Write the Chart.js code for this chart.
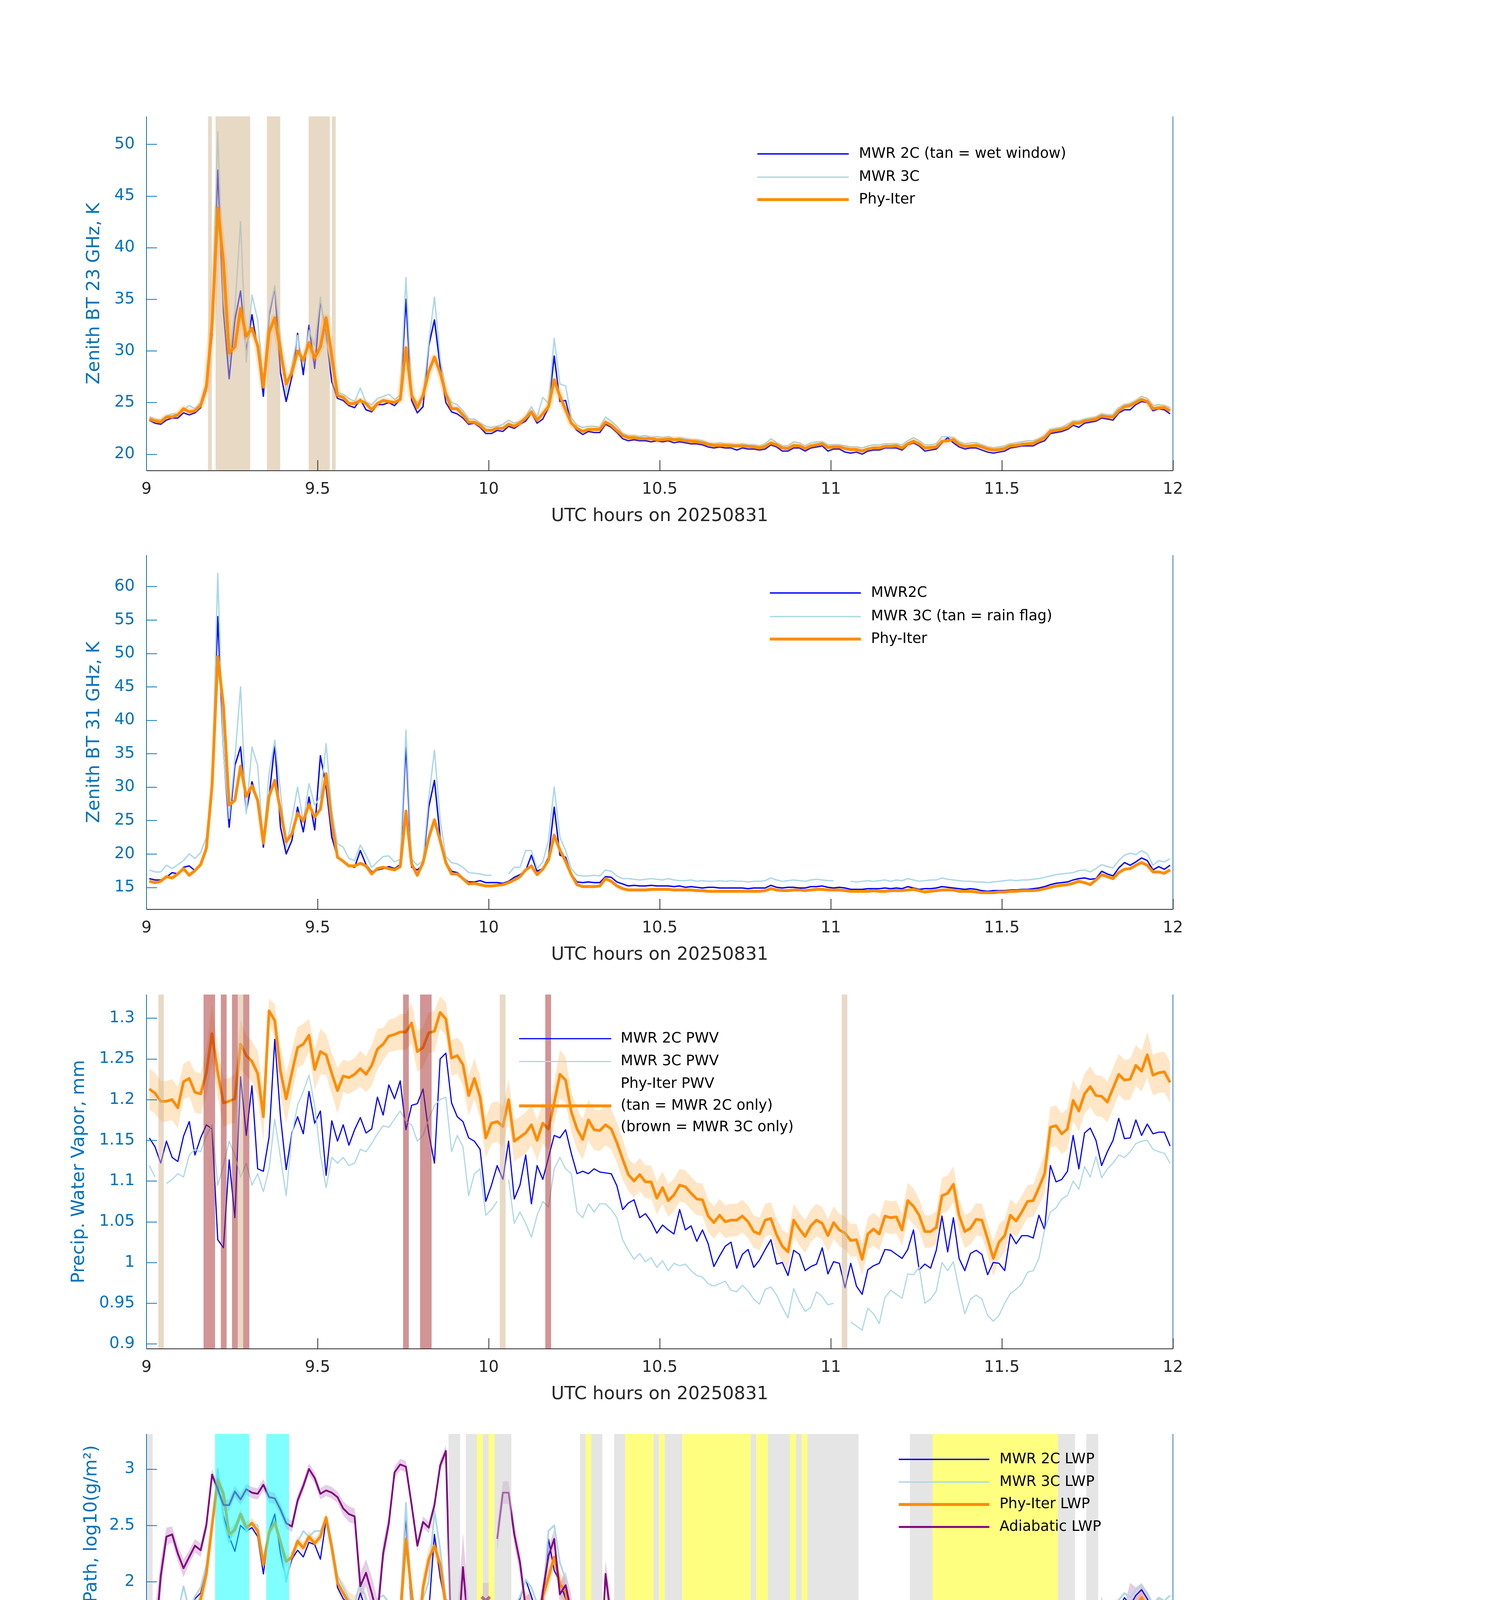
<!DOCTYPE html>
<html><head><meta charset="utf-8">
<script src="https://cdn.jsdelivr.net/npm/chart.js@4.4.1/dist/chart.umd.min.js"></script>
<style>
html,body{margin:0;padding:0;background:#fff;}
body{width:3825px;height:6000px;position:relative;overflow:hidden;}
canvas{position:absolute;left:0;width:3825px;height:1197px;}
</style></head><body>
<canvas id="c1" width="3825" height="1197" style="top:198px"></canvas>
<canvas id="c2" width="3825" height="1197" style="top:1321px"></canvas>
<canvas id="c3" width="3825" height="1197" style="top:2446px"></canvas>
<canvas id="c4" width="3825" height="1197" style="top:3571px"></canvas>
<canvas id="c5" width="3825" height="1197" style="top:4695px"></canvas>
<script>
const N = null;
// time grid: one value per minute centre, 09:00:30 ... 11:59:30 UTC
const T = Array.from({length: 180}, (v, i) => 9 + (i + 0.5) / 60);
const xTicks = [9, 9.5, 10, 10.5, 11, 11.5, 12];
const xTickLabels = ['9', '9.5', '10', '10.5', '11', '11.5', '12'];

// ---------- Panel 1: 23 GHz ----------
const p1YTicks = [20, 25, 30, 35, 40, 45, 50];
const p1YTickLabels = ['20', '25', '30', '35', '40', '45', '50'];
const p1Mwr2c = [
23.3,23.0,22.9,23.3,23.5,23.5,24.0,23.8,24.0,24.5,
26.2,31.5,47.5,33.8,27.3,33.0,35.8,30.0,33.5,30.2,
25.6,33.4,36.2,27.9,25.1,27.5,31.7,27.7,32.5,28.3,
34.9,31.5,27.0,25.4,25.2,24.7,24.5,25.3,24.3,24.1,
24.8,24.8,25.0,24.7,25.3,35.0,25.2,24.0,24.6,30.5,
33.0,28.5,25.0,24.1,23.9,23.5,22.9,23.0,22.6,22.0,
22.0,22.3,22.2,22.7,22.5,22.9,23.2,24.0,23.0,23.4,
24.5,29.5,25.1,25.2,23.0,22.3,21.9,22.2,22.1,22.1,
22.9,22.6,22.1,21.5,21.3,21.4,21.3,21.3,21.2,21.3,
21.2,21.3,21.1,21.2,21.1,21.0,21.0,20.9,20.7,20.6,
20.7,20.6,20.6,20.4,20.6,20.5,20.5,20.4,20.5,20.9,
20.7,20.3,20.3,20.6,20.6,20.3,20.6,20.7,20.8,20.3,
20.5,20.5,20.2,20.1,20.2,20.0,20.3,20.4,20.4,20.6,
20.6,20.6,20.4,20.9,21.1,20.8,20.3,20.4,20.5,21.1,
21.6,21.1,20.7,20.5,20.6,20.6,20.4,20.2,20.1,20.2,
20.3,20.6,20.7,20.8,20.8,20.8,21.1,21.3,22.0,22.1,
22.2,22.4,22.8,22.6,23.0,23.1,23.2,23.5,23.4,23.3,
24.0,24.3,24.3,24.8,25.1,25.0,24.2,24.4,24.3,23.9];
const p1Mwr3c = [
23.6,23.4,23.3,23.7,23.9,23.9,24.3,24.7,24.4,25.0,
27.0,33.0,51.2,35.0,29.0,34.0,42.5,28.9,35.4,33.0,
27.0,33.8,36.3,31.0,26.0,28.5,31.5,28.5,32.0,30.5,
35.2,31.0,28.5,26.0,25.8,25.4,25.1,26.4,25.0,24.8,
25.4,25.6,25.8,25.3,25.7,37.1,25.8,25.0,25.6,30.8,
35.2,29.3,26.0,25.0,24.8,24.2,23.4,23.4,23.0,22.7,
22.6,22.7,22.9,23.3,23.0,23.2,23.6,24.6,23.6,25.5,
24.9,31.2,26.8,26.6,23.5,22.8,22.6,22.7,22.7,22.6,
23.6,23.2,22.7,22.0,21.8,21.8,21.7,21.8,21.6,21.7,
21.6,21.7,21.5,21.6,21.5,21.4,21.4,21.3,21.1,21.0,
21.1,21.0,21.0,20.9,21.0,20.9,20.9,20.8,21.0,21.5,
21.1,20.8,20.8,21.2,21.1,20.8,21.1,21.2,21.2,20.9,
20.9,20.9,20.8,20.7,20.7,20.6,20.8,20.9,20.9,21.0,
21.0,21.0,20.9,21.3,21.6,21.3,20.9,20.9,21.0,21.7,
21.7,21.6,21.2,21.0,21.1,21.1,20.9,20.7,20.6,20.7,
20.8,21.0,21.1,21.2,21.3,21.3,21.5,21.8,22.4,22.5,
22.6,22.9,23.2,23.2,23.4,23.5,23.6,23.9,23.8,23.8,
24.5,24.8,24.9,25.2,25.6,25.4,24.7,24.8,24.7,24.5];
const p1Phy = [
23.4,23.2,23.1,23.6,23.6,23.8,24.4,24.1,24.2,24.7,
26.5,32.5,43.8,38.6,29.8,30.4,34.1,31.4,32.2,30.5,
26.5,31.8,33.2,30.0,26.8,27.9,30.0,29.1,30.8,29.3,
30.4,33.2,29.5,25.7,25.5,24.9,24.9,25.2,24.9,24.3,
24.9,25.2,25.1,25.0,25.3,30.3,25.7,24.5,25.7,28.0,
29.4,27.9,25.8,24.4,24.4,23.8,23.1,23.1,22.8,22.3,
22.3,22.5,22.5,22.9,22.7,23.0,23.5,24.1,23.3,23.9,
24.6,27.2,25.6,24.3,23.0,22.5,22.2,22.4,22.4,22.4,
23.1,22.8,22.3,21.8,21.6,21.6,21.5,21.5,21.5,21.4,
21.4,21.45,21.4,21.4,21.3,21.25,21.2,21.1,20.95,20.85,
20.85,20.85,20.8,20.8,20.8,20.75,20.7,20.6,20.75,21.1,
20.9,20.6,20.55,20.85,20.8,20.55,20.8,20.9,21.0,20.65,
20.7,20.7,20.55,20.45,20.45,20.3,20.5,20.6,20.6,20.75,
20.75,20.8,20.6,21.0,21.25,21.0,20.6,20.65,20.7,21.25,
21.3,21.4,20.95,20.75,20.8,20.85,20.7,20.5,20.4,20.45,
20.55,20.8,20.85,20.95,21.0,21.05,21.3,21.6,22.2,22.3,
22.4,22.6,23.0,23.0,23.2,23.3,23.4,23.7,23.6,23.6,
24.2,24.6,24.7,25.0,25.3,25.1,24.4,24.5,24.5,24.2];
const p1WetSpans = [[9.180,9.191],[9.202,9.303],[9.352,9.391],[9.474,9.536],[9.542,9.553]];

// ---------- Panel 2: 31 GHz ----------
const p2YTicks = [15, 20, 25, 30, 35, 40, 45, 50, 55, 60];
const p2YTickLabels = ['15','20','25','30','35','40','45','50','55','60'];
const p2Mwr2c = [
16.3,16.1,16.1,16.5,17.2,17.0,18.0,18.2,17.5,18.5,
21.0,30.5,55.5,35.3,24.0,33.2,36.0,26.4,30.8,28.0,
21.0,28.5,36.4,24.0,20.0,22.0,27.0,23.3,28.5,23.6,
34.7,30.0,22.5,19.5,19.0,18.2,18.0,20.5,18.4,17.3,
17.6,17.8,18.1,17.8,18.4,36.4,18.0,17.6,18.4,27.0,
31.0,22.5,18.8,17.4,17.2,16.4,15.8,15.8,16.0,15.7,
15.7,15.7,15.6,15.9,16.5,16.9,17.5,19.8,17.4,17.8,
19.5,27.0,19.8,19.5,17.0,15.8,15.7,15.8,15.7,15.7,
16.6,16.5,15.8,15.5,15.2,15.3,15.2,15.2,15.3,15.2,
15.2,15.2,15.1,15.2,15.0,15.1,15.0,14.9,15.0,15.0,
14.9,14.9,14.9,14.9,14.9,14.8,14.9,14.9,14.9,15.3,
15.0,14.9,15.0,15.0,14.9,14.9,15.1,15.1,15.2,15.0,
14.9,15.0,14.9,14.7,14.7,14.7,14.8,14.8,14.8,14.9,
14.8,14.9,14.8,15.1,14.9,14.7,14.8,14.8,14.9,15.1,
15.0,14.9,14.8,14.7,14.8,14.7,14.5,14.4,14.5,14.5,
14.5,14.6,14.6,14.7,14.7,14.8,14.9,15.1,15.4,15.6,
15.7,15.8,16.1,16.3,16.4,16.2,16.3,17.4,17.0,16.7,
17.9,18.7,18.3,18.8,19.4,19.0,17.6,18.1,17.7,18.3];
const p2Mwr3c = [
17.6,17.3,17.3,18.3,17.8,18.4,19.0,20.0,19.3,20.2,
22.5,30.0,62.0,35.0,25.3,34.2,45.0,26.0,36.0,33.2,
21.5,32.0,37.0,29.3,21.0,25.2,30.0,24.8,30.5,27.3,
28.5,36.5,26.5,21.5,21.0,19.3,19.0,21.3,19.8,18.0,
18.8,19.6,19.7,18.8,19.2,38.5,19.2,18.3,19.0,28.3,
35.5,25.0,19.6,18.7,18.5,18.0,17.2,17.1,17.0,16.8,
16.8,N,N,17.0,18.0,18.0,20.5,20.5,17.8,18.8,
22.0,30.0,22.5,20.5,17.8,16.8,16.7,16.7,16.8,16.7,
17.6,17.4,16.7,16.3,16.3,16.2,16.1,16.2,16.3,16.2,
16.1,16.3,16.1,16.0,16.0,16.1,15.9,16.0,15.9,15.9,
16.0,15.9,16.0,15.9,15.9,15.8,15.9,15.9,16.0,16.4,
16.1,15.9,16.0,16.1,16.0,15.9,16.1,16.2,16.1,16.0,
16.0,N,N,15.9,15.8,15.9,16.0,15.9,16.0,16.1,
15.9,16.1,16.0,16.3,16.1,15.9,16.0,16.1,16.1,16.4,
16.2,16.1,16.0,15.9,15.9,15.8,15.8,15.7,15.8,15.9,
16.0,16.1,16.0,16.1,16.1,16.2,16.3,16.5,16.7,16.9,
17.0,17.1,17.2,17.5,17.6,17.3,17.8,18.4,18.1,17.9,
19.0,19.8,20.1,19.9,20.5,20.0,18.3,19.0,18.8,19.3];
const p2Phy = [
15.9,15.7,15.9,16.6,16.4,17.0,17.8,16.8,17.5,18.4,
20.8,30.2,49.5,42.1,27.3,28.0,33.1,28.6,30.2,28.0,
21.6,28.6,31.0,26.5,21.8,23.0,26.1,24.9,27.4,25.5,
26.7,32.0,24.7,19.5,18.9,18.2,18.2,18.6,18.2,17.0,
17.8,18.0,17.8,17.6,18.1,26.4,18.5,16.8,18.7,22.4,
25.1,22.0,18.7,17.0,17.0,16.3,15.5,15.6,15.4,15.2,
15.2,15.3,15.4,15.7,16.1,16.6,17.6,18.2,16.9,17.7,
19.1,22.8,20.6,18.9,16.9,15.4,15.1,15.1,15.1,15.2,
16.3,15.9,15.2,14.8,14.6,14.6,14.6,14.6,14.7,14.7,
14.7,14.7,14.6,14.6,14.6,14.6,14.5,14.5,14.4,14.4,
14.4,14.4,14.4,14.4,14.4,14.4,14.4,14.4,14.5,14.8,
14.6,14.5,14.5,14.6,14.6,14.5,14.6,14.7,14.7,14.6,
14.6,14.6,14.5,14.4,14.4,14.4,14.4,14.5,14.4,14.4,
14.5,14.5,14.5,14.6,14.7,14.5,14.3,14.4,14.5,14.6,
14.6,14.6,14.4,14.4,14.4,14.3,14.2,14.2,14.2,14.3,
14.3,14.4,14.4,14.5,14.5,14.5,14.6,14.8,15.0,15.2,
15.3,15.4,15.6,15.9,15.7,15.4,16.1,16.9,16.6,16.3,
17.2,17.7,17.8,18.3,18.7,18.3,17.3,17.3,17.1,17.6];

// ---------- Panel 3: PWV ----------
const p3YTicks = [0.9, 0.95, 1, 1.05, 1.1, 1.15, 1.2, 1.25, 1.3];
const p3YTickLabels = ['0.9','0.95','1','1.05','1.1','1.15','1.2','1.25','1.3'];
const p3Mwr2c = [
1.153,1.142,1.122,1.149,1.129,1.124,1.155,1.173,1.132,1.153,
1.169,1.164,1.028,1.018,1.126,1.055,1.228,1.156,1.217,1.115,
1.112,1.154,1.274,1.179,1.114,1.159,1.179,1.158,1.210,1.171,
1.186,1.107,1.174,1.149,1.169,1.144,1.163,1.178,1.159,1.164,
1.203,1.181,1.218,1.201,1.223,1.163,1.193,1.195,1.213,1.159,
1.122,1.250,1.257,1.196,1.179,1.173,1.153,1.149,1.139,1.075,
1.095,1.119,1.102,1.149,1.078,1.095,1.132,1.072,1.119,1.102,
1.129,1.156,1.153,1.163,1.134,1.109,1.112,1.109,1.115,1.111,
1.110,1.109,1.094,1.065,1.073,1.077,1.055,1.060,1.050,1.036,
1.046,1.040,1.035,1.065,1.040,1.045,1.026,1.040,1.023,0.995,
1.008,1.020,1.025,0.993,1.010,1.016,0.994,1.003,1.016,1.028,
0.998,1.000,0.984,1.015,1.010,0.990,0.995,0.998,1.018,0.986,
1.001,0.999,0.969,0.999,0.971,0.961,0.991,0.996,0.999,1.016,
1.015,1.010,1.005,1.016,1.040,0.991,0.998,0.993,1.015,1.057,
1.013,1.055,1.005,0.990,1.011,1.015,1.010,0.985,1.000,0.999,
0.990,1.035,1.023,1.033,1.033,1.030,1.058,1.040,1.119,1.099,
1.102,1.112,1.156,1.115,1.159,1.165,1.150,1.119,1.136,1.150,
1.177,1.152,1.153,1.175,1.156,1.170,1.158,1.160,1.160,1.143];
const p3Mwr3c = [
1.119,1.105,N,1.097,1.102,1.109,1.105,1.132,1.139,1.136,
1.156,1.169,1.095,1.119,1.149,1.132,1.105,1.122,1.095,1.109,
1.087,1.115,1.176,1.129,1.082,1.156,1.193,1.210,1.230,1.193,
1.132,1.092,1.129,1.122,1.129,1.119,1.122,1.139,1.136,1.146,
1.158,1.168,1.166,1.176,1.186,1.173,1.169,1.149,1.156,1.176,
1.193,1.200,1.203,1.136,1.156,1.142,1.082,1.109,1.115,1.058,
1.065,1.075,N,1.102,1.048,1.062,1.048,1.031,1.058,1.075,
1.068,1.115,1.129,1.115,1.109,1.062,1.055,1.072,1.062,1.072,
1.072,1.065,1.055,1.028,1.015,1.004,1.011,1.001,1.006,0.994,
1.002,0.990,0.999,0.996,0.998,0.990,0.984,0.982,0.974,0.971,
0.974,0.977,0.966,0.964,0.972,0.965,0.955,0.949,0.967,0.970,
0.960,0.945,0.932,0.968,0.952,0.940,0.945,0.964,0.958,0.948,
0.950,N,N,0.927,0.922,0.917,0.944,0.937,0.925,0.957,
0.966,0.961,0.956,0.986,0.985,0.994,0.950,0.955,0.965,1.000,
0.990,1.001,0.967,0.937,0.955,0.960,0.955,0.935,0.928,0.935,
0.950,0.962,0.967,0.974,0.988,0.990,1.005,1.040,1.062,1.067,
1.078,1.082,1.100,1.090,1.118,1.105,1.130,1.104,1.115,1.122,
1.132,1.129,1.136,1.146,1.149,1.150,1.139,1.136,1.134,1.122];
const p3Phy = [
1.213,1.208,1.198,1.198,1.200,1.190,1.222,1.226,1.209,1.207,
1.233,1.281,1.233,1.196,1.198,1.201,1.268,1.254,1.247,1.232,
1.179,1.309,1.297,1.235,1.201,1.233,1.264,1.268,1.279,1.237,
1.259,1.255,1.232,1.211,1.229,1.227,1.231,1.238,1.231,1.242,
1.262,1.268,1.278,1.280,1.283,1.283,1.294,1.259,1.264,1.282,
1.284,1.307,1.299,1.251,1.254,1.243,1.205,1.226,1.203,1.153,
1.171,1.173,1.167,1.200,1.149,1.154,1.159,1.169,1.150,1.171,
1.164,1.196,1.231,1.224,1.185,1.164,1.151,1.175,1.163,1.162,
1.169,1.164,1.147,1.127,1.108,1.100,1.108,1.099,1.099,1.079,
1.092,1.076,1.083,1.095,1.093,1.085,1.078,1.077,1.057,1.049,
1.058,1.050,1.052,1.052,1.057,1.050,1.038,1.035,1.052,1.054,
1.034,1.020,1.013,1.052,1.041,1.032,1.045,1.052,1.048,1.033,
1.049,1.040,1.036,1.027,1.028,1.004,1.035,1.041,1.035,1.057,
1.055,1.056,1.040,1.076,1.069,1.058,1.038,1.038,1.043,1.082,
1.085,1.096,1.058,1.038,1.042,1.053,1.052,1.029,1.005,1.025,
1.033,1.058,1.051,1.062,1.075,1.076,1.092,1.109,1.166,1.168,
1.158,1.164,1.199,1.186,1.207,1.216,1.205,1.204,1.197,1.214,
1.231,1.224,1.225,1.242,1.235,1.255,1.230,1.233,1.234,1.221];
const p3PhyErr = [
.025,.025,.025,.025,.025,.025,.022,.022,.025,.025,
.028,.035,.03,.03,.028,.03,.03,.025,.025,.028,
.03,.015,.02,.03,.03,.028,.025,.025,.02,.025,
.028,.025,.025,.028,.02,.02,.02,.022,.022,.025,
.025,.02,.02,.02,.022,.022,.025,.025,.025,.025,
.025,.02,.02,.022,.022,.025,.025,.025,.025,.025,
.025,.025,.025,.025,.025,.025,.025,.025,.025,.025,
.025,.025,.03,.028,.025,.025,.025,.025,.025,.025,
.025,.025,.025,.025,.02,.02,.02,.02,.02,.02,
.02,.02,.02,.02,.02,.02,.02,.02,.02,.02,
.02,.02,.02,.02,.02,.02,.02,.02,.02,.02,
.02,.02,.022,.02,.02,.02,.02,.02,.02,.02,
.02,.02,.02,.02,.02,.02,.02,.02,.02,.02,
.02,.02,.02,.022,.022,.02,.02,.02,.02,.022,
.022,.022,.02,.02,.02,.02,.02,.02,.022,.022,
.02,.02,.02,.02,.02,.02,.022,.025,.025,.025,
.025,.025,.025,.025,.025,.025,.025,.025,.025,.025,
.025,.025,.025,.025,.025,.028,.025,.025,.025,.025];
const p3TanSpans = [[9.0348,9.0506],[9.2668,9.2827],[10.0326,10.0495],[11.0322,11.0484]];
const p3BrownSpans = [[9.1668,9.2005],[9.2173,9.2342],[9.25,9.2668],[9.2827,9.3006],[9.750,9.7668],[9.7996,9.8333],[10.1656,10.1825]];

// ---------- Panel 4: LWP ----------
const p4YTicks = [0.5, 1, 1.5, 2, 2.5, 3];
const p4YTickLabels = ['0.5','1','1.5','2','2.5','3'];
const p4Mwr2c = [
1.58,1.47,1.50,1.68,1.66,1.82,1.78,1.70,1.85,1.90,
2.10,2.50,2.92,2.59,2.40,2.27,2.50,2.45,2.48,2.40,
2.07,2.45,2.60,2.25,2.02,2.20,2.28,2.22,2.35,2.33,
2.20,2.55,2.30,1.95,1.85,1.80,1.72,1.90,1.75,1.60,
1.72,1.80,1.74,1.70,1.80,2.58,1.70,1.55,1.75,1.73,
2.42,2.04,1.79,1.68,1.62,1.50,1.36,1.50,1.40,1.45,
1.46,1.40,1.47,1.50,1.75,1.85,2.02,1.87,1.72,1.80,
2.38,2.10,2.00,1.85,1.54,1.41,1.39,1.38,1.32,1.45,
1.70,1.62,1.42,1.37,1.26,1.24,1.39,1.30,1.38,1.41,
1.39,1.46,1.36,1.40,1.38,1.40,1.39,1.28,1.37,1.38,
1.40,1.34,1.32,1.33,1.36,1.37,1.31,1.37,1.37,1.54,
1.45,1.35,1.40,1.38,1.38,1.42,1.46,1.47,1.44,1.42,
1.41,1.38,1.43,1.37,1.38,1.43,1.45,1.35,1.34,1.40,
1.33,1.44,1.33,1.43,1.31,1.41,1.35,1.40,1.38,1.41,
1.40,1.33,1.33,1.32,1.30,1.29,1.27,1.28,1.30,1.31,
1.31,1.32,1.31,1.31,1.33,1.34,1.37,1.38,1.39,1.41,
1.44,1.48,1.55,1.57,1.42,1.37,1.60,1.74,1.66,1.56,
1.76,1.86,1.79,1.88,1.93,1.85,1.74,1.81,1.78,1.66];
const p4Mwr3c = [
1.69,1.55,1.60,1.72,1.75,1.72,1.96,1.75,1.87,1.95,
2.15,2.50,3.00,2.55,2.35,2.50,2.58,2.45,2.52,2.50,
2.20,2.45,2.52,2.35,2.00,2.25,2.35,2.45,2.40,2.45,
2.45,2.57,2.35,2.05,1.95,1.85,1.80,2.00,1.85,1.70,
1.85,1.88,1.82,1.78,1.76,2.70,1.78,1.60,1.85,2.00,
2.63,2.29,1.85,1.80,1.70,1.52,1.50,1.48,1.45,1.44,
1.41,1.39,1.43,1.50,1.77,1.87,2.02,1.95,1.81,1.85,
2.45,2.50,2.17,2.02,1.60,1.45,1.41,1.42,1.43,1.56,
1.73,1.70,1.54,1.45,1.35,1.34,1.34,1.33,1.35,1.34,
1.35,1.46,1.36,1.35,1.34,1.33,1.34,1.30,1.33,1.32,
1.32,1.31,1.31,1.30,1.32,1.31,1.32,1.31,1.32,1.46,
1.40,1.34,1.38,1.33,1.34,1.33,1.36,1.37,1.35,1.34,
1.33,1.35,1.33,1.32,1.33,1.31,1.32,1.30,1.31,1.31,
1.30,1.32,1.31,1.30,1.30,1.31,1.30,1.32,1.29,1.30,
1.28,1.27,1.29,1.28,1.26,1.27,1.26,1.27,1.28,1.29,
1.28,1.29,1.30,1.30,1.31,1.31,1.33,1.35,1.37,1.40,
1.43,1.46,1.50,1.48,1.40,1.35,1.62,1.68,1.60,1.80,
1.84,1.90,1.86,1.93,1.97,1.90,1.80,1.86,1.83,1.88];
const p4Phy = [
1.10,0.97,1.20,1.52,1.47,1.62,1.73,1.52,1.70,1.85,
2.07,2.50,2.90,2.78,2.42,2.46,2.60,2.48,2.52,2.45,
2.15,2.44,2.53,2.35,2.18,2.22,2.36,2.30,2.40,2.34,
2.40,2.57,2.30,1.99,1.90,1.81,1.78,1.83,1.78,1.54,
1.68,1.72,1.68,1.62,1.68,2.38,1.90,1.45,1.95,2.20,
2.32,2.15,1.78,1.56,1.55,1.25,0.89,N,N,N,
N,0.79,0.88,0.83,1.38,1.60,1.80,1.75,1.64,1.87,
2.04,2.22,1.98,1.91,1.60,1.08,0.66,N,0.63,0.80,
1.43,1.38,1.03,0.49,N,N,N,N,N,N,
N,0.94,0.69,0.32,N,N,N,N,N,N,
N,N,N,N,N,N,N,N,N,0.96,
0.99,0.78,0.78,N,N,N,N,N,N,N,
N,N,N,N,N,N,N,N,N,N,
N,N,N,N,N,N,N,N,N,N,
N,N,N,N,N,N,N,N,N,N,
N,N,N,N,N,N,N,N,N,N,
0.86,1.01,1.02,1.18,1.17,0.60,1.10,1.55,1.50,1.40,
1.55,1.68,1.72,1.77,1.86,1.76,1.65,1.63,1.67,1.61];
const p4PhyErr = [
.45,.5,.35,.2,.2,.15,.12,.12,.12,.12,
.1,.08,.06,.06,.06,.05,.05,.05,.05,.05,
.05,.05,.05,.05,.05,.05,.05,.05,.05,.05,
.05,.05,.06,.08,.1,.1,.1,.12,.12,.15,
.1,.1,.1,.1,.1,.1,.1,.15,.12,.1,
.1,.1,.12,.15,.2,.35,.5,N,N,N,
N,.4,.4,.4,.25,.15,.12,.12,.12,.1,
.1,.1,.1,.12,.2,.4,.5,N,.5,.4,
.15,.2,.4,.5,N,N,N,N,N,N,
N,.5,.5,.5,N,N,N,N,N,N,
N,N,N,N,N,N,N,N,N,.4,
.4,.4,.4,N,N,N,N,N,N,N,
N,N,N,N,N,N,N,N,N,N,
N,N,N,N,N,N,N,N,N,N,
N,N,N,N,N,N,N,N,N,N,
N,N,N,N,N,N,N,N,N,N,
.4,.35,.35,.3,.3,.5,.35,.2,.2,.25,
.2,.15,.12,.1,.1,.1,.12,.12,.12,.15];
const p4Adi = [
1.20,1.45,2.05,2.40,2.42,2.25,2.12,2.22,2.32,2.28,
2.50,2.95,2.82,2.68,2.68,2.80,2.73,2.82,2.79,2.78,
2.86,2.75,2.74,2.64,2.52,2.49,2.72,2.85,3.00,2.92,
2.78,2.81,2.79,2.75,2.65,2.60,2.58,1.96,2.08,1.90,
1.70,2.25,2.52,2.97,3.04,3.02,2.68,2.32,2.53,2.48,
2.68,3.03,3.16,1.37,1.37,2.13,1.56,N,N,N,
N,2.38,2.79,2.79,2.42,2.17,1.77,1.76,1.50,1.91,
2.23,2.38,1.89,1.97,1.73,1.08,1.01,N,1.05,1.05,
2.07,1.66,1.05,1.05,N,N,N,N,N,N,
N,1.01,1.01,1.01,N,N,N,N,N,N,
N,N,N,N,N,N,N,N,N,1.01,
1.01,1.01,1.01,N,N,N,N,N,N,N,
N,N,N,N,N,N,N,N,N,N,
N,N,N,N,N,N,N,N,N,N,
N,N,N,N,N,N,N,N,N,N,
N,N,N,N,N,N,N,N,N,N,
1.01,1.01,1.01,1.20,1.30,1.01,1.35,1.67,1.40,1.12,
1.47,1.50,1.74,1.75,1.79,1.71,1.54,1.61,1.50,1.31];
const p4AdiErr = [
.4,.3,.15,.08,.07,.07,.08,.06,.06,.06,
.06,.05,.05,.05,.05,.05,.05,.05,.05,.05,
.05,.05,.05,.05,.05,.05,.05,.05,.05,.05,
.05,.05,.05,.05,.06,.07,.07,.12,.12,.15,
.15,.1,.08,.05,.05,.05,.05,.05,.05,.05,
.05,.05,.05,.35,.35,.3,.25,N,N,N,
N,.12,.1,.1,.1,.1,.1,.15,.15,.1,
.08,.08,.1,.12,.15,.2,.25,N,.2,.2,
.12,.15,.2,.2,N,N,N,N,N,N,
N,.2,.2,.2,N,N,N,N,N,N,
N,N,N,N,N,N,N,N,N,.2,
.2,.2,.2,N,N,N,N,N,N,N,
N,N,N,N,N,N,N,N,N,N,
N,N,N,N,N,N,N,N,N,N,
N,N,N,N,N,N,N,N,N,N,
N,N,N,N,N,N,N,N,N,N,
.3,.3,.3,.25,.25,.3,.25,.2,.3,.4,
.3,.3,.25,.2,.2,.2,.25,.25,.3,.35];
// isolated retrievals [minute index, value]
const p4AdiMarks = [[59,1.83],[89,1.01],[106,1.01],[114,1.01],[118,1.01],[134,1.10]];
const p4PhyMarks = [[59,0.78],[89,0.82],[106,0.60],[114,0.85],[134,0.80]];
// uncertainty ranges where no continuous retrieval [t0, t1, lo, hi]
const p4PhyGapRange = [[9.8828,9.917,0,1.29],[9.983,10.0,0,1.25],[10.017,10.066,0,1.24],[10.266,10.283,0,1.0],
 [10.299,10.332,0,1.2],[10.366,10.399,0,1.41],[10.482,10.499,0,1.35],[10.515,10.566,0,1.2],[10.766,10.782,0,1.15],
 [10.816,10.881,0,1.36],[10.898,10.915,0,1.2],[10.965,10.981,0,1.28],[11.231,11.247,0,1.22],[11.664,11.714,0,1.35],[11.747,11.782,0,1.2]];
const p4AdiGapRange = [[9.8828,9.9167,0.76,1.70],[9.983,10.0,1.64,1.99],[10.266,10.283,0.41,1.39],[10.299,10.332,0.46,1.20],
 [10.366,10.399,0.45,1.41],[10.482,10.499,0.41,1.35],[10.515,10.566,0.41,1.20],[10.766,10.782,0.40,1.15],[10.816,10.881,0.40,1.36],
 [10.898,10.915,0.40,1.20],[10.965,10.981,0.40,1.28],[11.231,11.247,0.49,1.22],[11.664,11.714,0.40,1.35],[11.747,11.782,0.40,1.2]];
const p4GreySpans = [[9.0,9.018],[9.8828,9.9167],[9.9335,9.9662],[9.9831,10.0],[10.0169,10.0664],[10.2668,10.2837],[10.2996,10.3323],
 [10.3668,10.3993],[10.482,10.4983],[10.5145,10.5658],[10.7659,10.7822],[10.8158,10.881],[10.8985,10.9147],[10.9311,11.0812],
 [11.2312,11.2976],[11.6638,11.714],[11.7467,11.7816]];
const p4YellowSpans = [[9.9662,9.9831],[10.0,10.0169],[10.2837,10.2996],[10.3993,10.482],[10.4983,10.5145],[10.5658,10.7659],
 [10.7822,10.8158],[10.881,10.8985],[10.9147,10.9311],[11.2976,11.6638]];
const p4CyanSpans = [[9.2005,9.3006],[9.350,9.4166]];

// ---------- Panel 5: DQ flag ----------
const p5YTicks = [0, 2, 4, 6, 8, 10];
const p5YTickLabels = ['0','2','4','6','8','10'];
const dqFlag = [
4,0,0,0,0,0,0,0,0,0,
0,0,11,11,11,11,11,11,0,0,
0,11,11,11,11,0,0,0,0,0,
0,0,0,0,0,0,0,0,0,0,
0,0,0,0,0,0,0,0,0,0,
0,0,0,4,4,0,4,3,5,3,
5,3,4,3,0,0,0,0,0,0,
0,0,0,0,0,0,4,5,4,4,
0,0,4,4,5,5,5,5,5,4,
5,4,4,4,5,5,5,5,5,5,
5,5,5,5,5,5,4,5,5,4,
4,4,4,5,4,5,3,3,4,3,
3,3,3,3,3,0,0,0,0,0,
0,0,0,0,4,4,4,4,5,5,
5,5,5,5,5,5,5,5,5,5,
5,5,5,5,5,5,5,5,5,5,
4,4,4,0,0,4,4,0,0,0,
0,0,0,0,0,0,0,0,0,0];
const dqExtra = [[12,9],[13,9],[14,9],[15,9],[16,9],[17,9],[21,9],[22,9],[12,6]]; // [minute index, flag]

// ================= drawing =================
const BLUE = '#0000FF', LBLUE = '#ADD8E6', ORANGE = '#FF8C00', PURPLE = '#800080';
const AXBLUE = '#0072BD', AXDARK = '#262626';
const FONT = 'DejaVu Sans';
Chart.defaults.font.family = FONT;

const pts = arr => T.map((t, i) => ({x: t, y: arr[i]}));
const add = (a, e, s) => a.map((v, i) => (v == null || e[i] == null) ? null : v + s * e[i]);
function line(arr, color, w, order, extra) {
  return Object.assign({data: pts(arr), borderColor: color, borderWidth: w, pointRadius: 0, fill: false,
    tension: 0, spanGaps: false, order, borderJoinStyle: 'round', borderCapStyle: 'butt'}, extra || {});
}
function band(center, err, color, order) {
  return [
    {data: pts(add(center, err, 1)), borderWidth: 0, pointRadius: 0, backgroundColor: color, fill: '+1', order, spanGaps: false, tension: 0},
    {data: pts(add(center, err, -1)), borderWidth: 0, pointRadius: 0, fill: false, order, spanGaps: false, tension: 0}
  ];
}
function marks(list, color, order) {
  return {data: list.map(([i, v]) => ({x: T[i], y: v})), showLine: false, pointStyle: 'crossRot', pointRadius: 15,
    pointBorderWidth: 8, pointBorderColor: color, borderColor: color, order};
}

function spansPlugin(groups, beforeIndex) {
  const draw = chart => {
    const {ctx, chartArea: a, scales: {x}} = chart;
    ctx.save(); ctx.beginPath(); ctx.rect(a.left, a.top, a.right - a.left, a.bottom - a.top); ctx.clip();
    for (const g of groups) {
      ctx.fillStyle = g.color;
      for (const [t0, t1] of g.spans) {
        const p0 = x.getPixelForValue(t0), p1 = x.getPixelForValue(t1);
        ctx.fillRect(p0, a.top, p1 - p0, a.bottom - a.top);
      }
    }
    ctx.restore();
  };
  return {id: 'spans',
    beforeDatasetDraw(chart, args) { if (beforeIndex != null && args.index === beforeIndex) draw(chart); },
    afterDatasetsDraw(chart) { if (beforeIndex == null) draw(chart); }};
}
function rangePlugin(groups) {
  return {id: 'ranges', beforeDatasetsDraw(chart) {
    const {ctx, chartArea: a, scales: {x, y}} = chart;
    ctx.save(); ctx.beginPath(); ctx.rect(a.left, a.top, a.right - a.left, a.bottom - a.top); ctx.clip();
    for (const g of groups) {
      ctx.fillStyle = g.color;
      for (const [t0, t1, lo, hi] of g.items) {
        const p0 = x.getPixelForValue(t0), p1 = x.getPixelForValue(t1);
        const q0 = y.getPixelForValue(hi), q1 = y.getPixelForValue(Math.max(lo, y.min));
        ctx.fillRect(p0, q0, p1 - p0, q1 - q0);
      }
    }
    ctx.restore();
  }};
}
function legendPlugin(rows, x0, x1, tx) {
  return {id: 'mlegend', afterDraw(chart) {
    const {ctx, chartArea: a} = chart;
    ctx.save(); ctx.font = '37px "' + FONT + '"'; ctx.textBaseline = 'middle'; ctx.textAlign = 'left';
    for (const r of rows) {
      const yy = a.top + r.dy;
      if (r.color) { ctx.strokeStyle = r.color; ctx.lineWidth = r.w; ctx.beginPath(); ctx.moveTo(a.left + x0, yy); ctx.lineTo(a.left + x1, yy); ctx.stroke(); }
      ctx.fillStyle = '#000'; ctx.fillText(r.text, a.left + tx, yy);
    }
    ctx.restore();
  }};
}
const axesPlugin = {id: 'maxes', afterDraw(chart) {
  const {ctx, chartArea: a, scales: {x, y}} = chart;
  ctx.save(); ctx.lineWidth = 2; ctx.lineCap = 'butt';
  ctx.strokeStyle = AXBLUE;
  for (const t of y.ticks) { const py = Math.round(y.getPixelForValue(t.value)) + 0.5; ctx.beginPath(); ctx.moveTo(a.left, py); ctx.lineTo(a.left + 27, py); ctx.stroke(); }
  ctx.beginPath(); ctx.moveTo(a.left, a.top); ctx.lineTo(a.left, a.bottom); ctx.stroke();
  ctx.strokeStyle = '#2B7BB9';
  ctx.beginPath(); ctx.moveTo(a.right, a.top); ctx.lineTo(a.right, a.bottom); ctx.stroke();
  ctx.strokeStyle = AXDARK;
  for (const t of x.ticks) { if (t.value === 9) continue; const px = Math.round(x.getPixelForValue(t.value)) + 0.5; ctx.beginPath(); ctx.moveTo(px, a.bottom); ctx.lineTo(px, a.bottom - 27); ctx.stroke(); }
  ctx.beginPath(); ctx.moveTo(a.left, a.bottom); ctx.lineTo(a.right, a.bottom); ctx.stroke();
  ctx.restore();
}};

function options(yMin, yMax, yTicks, yLabels, yTitle, yTitleCenter) {
  return {
    responsive: false, animation: false, devicePixelRatio: 1, events: [],
    layout: {padding: {top: 100, right: 822, left: 0, bottom: 0}},
    plugins: {legend: {display: false}, tooltip: {enabled: false}},
    scales: {
      x: {type: 'linear', min: 9, max: 12,
        afterBuildTicks: s => { s.ticks = xTicks.map(v => ({value: v})); },
        afterFit: s => { s.height = 190; },
        ticks: {callback: (v, i) => xTickLabels[i], color: AXDARK, font: {size: 41}, padding: 24, maxRotation: 0, autoSkip: false},
        grid: {display: false, drawTicks: false}, border: {display: false},
        title: {display: true, text: 'UTC hours on 20250831', color: AXDARK, font: {size: 46}, padding: {top: 0, bottom: 45}}},
      y: {type: 'linear', min: yMin, max: yMax,
        afterBuildTicks: s => { s.ticks = yTicks.map(v => ({value: v})); },
        afterFit: s => { s.width = 375; },
        ticks: {callback: (v, i) => yLabels[i], color: AXBLUE, font: {size: 41}, padding: 30, autoSkip: false},
        grid: {display: false, drawTicks: false}, border: {display: false},
        title: {display: true, text: yTitle, color: AXBLUE, font: {size: 46}, padding: {top: yTitleCenter - 27.6, bottom: 0}}}
    }
  };
}

// Panel 1
new Chart(document.getElementById('c1'), {
  type: 'line',
  data: {datasets: [
    line(p1Mwr2c, BLUE, 3.5, 5),
    line(p1Mwr3c, LBLUE, 3.5, 4),
    line(p1Phy, 'rgba(255,140,0,0.18)', 18, 3),
    line(p1Phy, ORANGE, 7.5, 1)
  ]},
  options: options(18.4, 52.7, p1YTicks, p1YTickLabels, 'Zenith BT 23 GHz, K', 242),
  plugins: [spansPlugin([{spans: p1WetSpans, color: 'rgba(210,180,140,0.5)'}], 2), axesPlugin,
    legendPlugin([{dy: 96, text: 'MWR 2C (tan = wet window)', color: BLUE, w: 3.5},
                  {dy: 155.5, text: 'MWR 3C', color: LBLUE, w: 3.5},
                  {dy: 213, text: 'Phy-Iter', color: ORANGE, w: 7.5}], 1564, 1798, 1824)]
});

// Panel 2
new Chart(document.getElementById('c2'), {
  type: 'line',
  data: {datasets: [
    line(p2Mwr2c, BLUE, 3.5, 5),
    line(p2Mwr3c, LBLUE, 3.5, 4),
    line(p2Phy, ORANGE, 7.5, 1)
  ]},
  options: options(11.7, 64.7, p2YTicks, p2YTickLabels, 'Zenith BT 31 GHz, K', 242),
  plugins: [axesPlugin,
    legendPlugin([{dy: 97, text: 'MWR2C', color: BLUE, w: 3.5},
                  {dy: 157.6, text: 'MWR 3C (tan = rain flag)', color: LBLUE, w: 3.5},
                  {dy: 215, text: 'Phy-Iter', color: ORANGE, w: 7.5}], 1596, 1829, 1855)]
});

// Panel 3
new Chart(document.getElementById('c3'), {
  type: 'line',
  data: {datasets: [
    ...band(p3Phy, p3PhyErr, 'rgba(255,140,0,0.22)', 10),
    line(p3Mwr2c, BLUE, 3, 5),
    line(p3Mwr3c, LBLUE, 3, 4),
    line(p3Phy, ORANGE, 7, 1)
  ]},
  options: options(0.894, 1.329, p3YTicks, p3YTickLabels, 'Precip. Water Vapor, mm', 203),
  plugins: [spansPlugin([{spans: p3TanSpans, color: 'rgba(210,180,140,0.5)'}, {spans: p3BrownSpans, color: 'rgba(165,42,42,0.5)'}], null), axesPlugin,
    legendPlugin([{dy: 113, text: 'MWR 2C PWV', color: BLUE, w: 3},
                  {dy: 171.5, text: 'MWR 3C PWV', color: LBLUE, w: 3},
                  {dy: 229, text: 'Phy-Iter PWV'},
                  {dy: 285, text: '(tan = MWR 2C only)', color: ORANGE, w: 7.5},
                  {dy: 340, text: '(brown = MWR 3C only)'}], 954, 1190, 1214)]
});

// Panel 4
new Chart(document.getElementById('c4'), {
  type: 'line',
  data: {datasets: [
    ...band(p4Phy, p4PhyErr, 'rgba(255,140,0,0.22)', 12),
    ...band(p4Adi, p4AdiErr, 'rgba(128,0,128,0.2)', 11),
    line(p4Mwr2c, BLUE, 3, 6),
    line(p4Mwr3c, LBLUE, 4.5, 5),
    line(p4Phy, ORANGE, 7, 3),
    line(p4Adi, PURPLE, 4.5, 2),
    marks(p4AdiMarks, PURPLE, 1),
    marks(p4PhyMarks, ORANGE, 1)
  ]},
  options: options(0.17, 3.31, p4YTicks, p4YTickLabels, 'log10 Liquid Water Path, log10(g/m²)', 235),
  plugins: [rangePlugin([{items: p4PhyGapRange, color: 'rgba(255,140,0,0.2)'}, {items: p4AdiGapRange, color: 'rgba(128,0,128,0.2)'}]),
    spansPlugin([{spans: p4GreySpans, color: 'rgba(204,204,204,0.5)'}, {spans: p4YellowSpans, color: 'rgba(255,255,0,0.5)'}, {spans: p4CyanSpans, color: 'rgba(0,255,255,0.5)'}], null),
    axesPlugin,
    legendPlugin([{dy: 65, text: 'MWR 2C LWP', color: BLUE, w: 3.5},
                  {dy: 123, text: 'MWR 3C LWP', color: LBLUE, w: 3.5},
                  {dy: 180.6, text: 'Phy-Iter LWP', color: ORANGE, w: 7.5},
                  {dy: 238, text: 'Adiabatic LWP', color: PURPLE, w: 5}], 1926, 2158, 2184)]
});

// Panel 5
const dqPoints = dqFlag.map((v, i) => ({x: T[i], y: v})).concat(dqExtra.map(([i, v]) => ({x: T[i], y: v})));
new Chart(document.getElementById('c5'), {
  type: 'line',
  data: {datasets: [{data: dqPoints, showLine: false, pointRadius: 4.2, pointBackgroundColor: ORANGE, pointBorderWidth: 0, borderColor: ORANGE}]},
  options: options(-0.5, 11.5, p5YTicks, p5YTickLabels, 'MWR Phy Iter DQ Flag', 242),
  plugins: [axesPlugin]
});
</script>
</body></html>
